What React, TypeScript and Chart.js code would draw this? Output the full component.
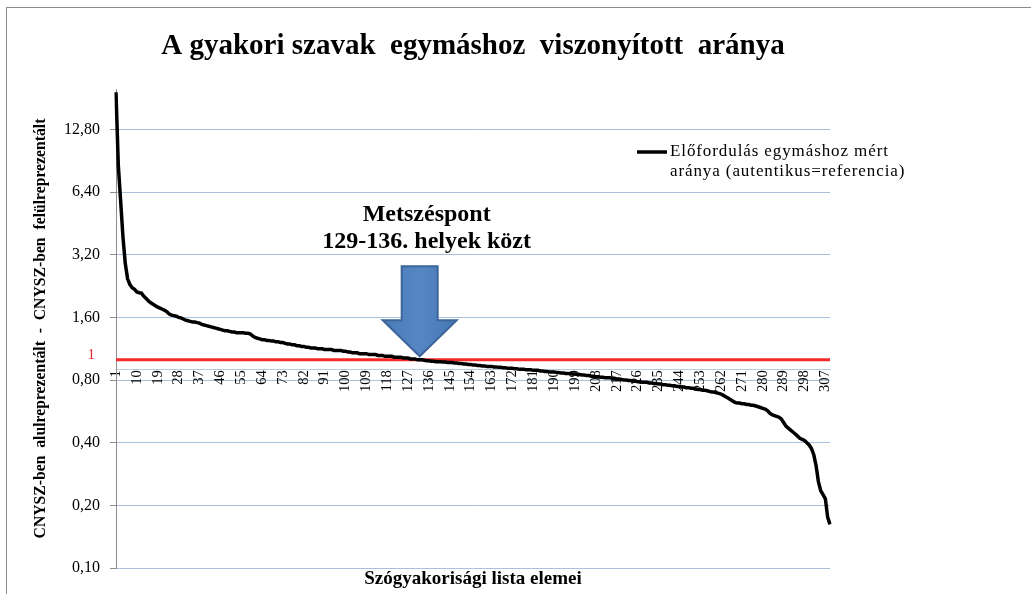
import { useEffect, useRef } from 'react';
import { Chart, registerables } from 'chart.js';

Chart.register(...registerables);

const chartTitle = 'A gyakori szavak  egymáshoz  viszonyított  aránya';
const yAxisTitle = 'CNYSZ-ben  alulreprezentált  -  CNYSZ-ben  felülreprezentált';
const xAxisTitle = 'Szógyakorisági lista elemei';
const seriesNameLines = ['Előfordulás egymáshoz mért', 'aránya (autentikus=referencia)'];
const annotationLines = ['Metszéspont', '129-136. helyek közt'];
const referenceValue = 1;
const referenceLabel = '1';
const arrowCategory = 132;
const arrowTipValue = 1.04;

const yTickValues = [0.1, 0.2, 0.4, 0.8, 1.6, 3.2, 6.4, 12.8];
const yMin = 0.1;
const yMax = 20;
const xAxisCrossValue = 0.9;

const xTickLabels = [
  '1', '10', '19', '28', '37', '46', '55', '64', '73', '82', '91', '100', '109', '118', '127', '136',
  '145', '154', '163', '172', '181', '190', '199', '208', '217', '226', '235', '244', '253', '262',
  '271', '280', '289', '298', '307',
];

const ratio = [
  19.3, 8.6, 5.8, 3.9, 2.9, 2.45, 2.3, 2.22, 2.18, 2.12,
  2.10, 2.09, 2.02, 1.97, 1.92, 1.88, 1.85, 1.82, 1.79, 1.77,
  1.75, 1.73, 1.70, 1.66, 1.64, 1.63, 1.62, 1.60, 1.59, 1.57,
  1.55, 1.54, 1.53, 1.52, 1.52, 1.51, 1.50, 1.48, 1.47, 1.46,
  1.45, 1.44, 1.43, 1.42, 1.41, 1.40, 1.39, 1.38, 1.38, 1.37,
  1.36, 1.36, 1.35, 1.35, 1.35, 1.35, 1.34, 1.34, 1.33, 1.30,
  1.28, 1.27, 1.26, 1.25, 1.25, 1.24, 1.24, 1.23, 1.23, 1.22,
  1.22, 1.21, 1.21, 1.20, 1.19, 1.19, 1.18, 1.18, 1.17, 1.17,
  1.16, 1.16, 1.15, 1.15, 1.14, 1.14, 1.14, 1.13, 1.13, 1.13,
  1.12, 1.12, 1.12, 1.12, 1.11, 1.11, 1.11, 1.11, 1.10, 1.10,
  1.09, 1.09, 1.08, 1.08, 1.08, 1.07, 1.07, 1.07, 1.07, 1.06,
  1.06, 1.06, 1.06, 1.05, 1.05, 1.05, 1.04, 1.04, 1.04, 1.04,
  1.03, 1.03, 1.03, 1.03, 1.02, 1.02, 1.02, 1.01, 1.01, 1.01,
  1.00, 1.00, 1.00, 0.995, 0.99, 0.99, 0.985, 0.985, 0.98, 0.98,
  0.98, 0.975, 0.975, 0.97, 0.97, 0.97, 0.965, 0.965, 0.96, 0.96,
  0.955, 0.955, 0.95, 0.95, 0.945, 0.945, 0.94, 0.94, 0.935, 0.935,
  0.93, 0.93, 0.93, 0.925, 0.925, 0.92, 0.92, 0.915, 0.915, 0.91,
  0.91, 0.91, 0.905, 0.905, 0.90, 0.90, 0.90, 0.895, 0.895, 0.895,
  0.89, 0.89, 0.89, 0.885, 0.885, 0.88, 0.88, 0.875, 0.875, 0.875,
  0.87, 0.87, 0.865, 0.865, 0.86, 0.86, 0.86, 0.855, 0.855, 0.85,
  0.85, 0.845, 0.845, 0.84, 0.84, 0.835, 0.835, 0.83, 0.83, 0.825,
  0.825, 0.82, 0.82, 0.82, 0.815, 0.815, 0.81, 0.81, 0.805, 0.80,
  0.80, 0.795, 0.795, 0.79, 0.79, 0.785, 0.785, 0.78, 0.78, 0.78,
  0.775, 0.775, 0.77, 0.77, 0.765, 0.765, 0.76, 0.76, 0.755, 0.755,
  0.75, 0.75, 0.745, 0.745, 0.74, 0.74, 0.735, 0.735, 0.73, 0.73,
  0.725, 0.72, 0.72, 0.715, 0.715, 0.71, 0.705, 0.70, 0.70, 0.695,
  0.69, 0.685, 0.675, 0.665, 0.655, 0.645, 0.635, 0.625, 0.62, 0.62,
  0.615, 0.615, 0.61, 0.61, 0.605, 0.605, 0.60, 0.595, 0.59, 0.585,
  0.58, 0.57, 0.555, 0.545, 0.54, 0.535, 0.53, 0.52, 0.50, 0.48,
  0.47, 0.46, 0.45, 0.44, 0.43, 0.42, 0.415, 0.41, 0.40, 0.39,
  0.375, 0.35, 0.31, 0.26, 0.235, 0.225, 0.215, 0.175, 0.162,
];

const categories = ratio.map((_, i) => String(i + 1));
const referenceLine = categories.map(() => referenceValue);

const SERIF = "'Liberation Serif', 'Times New Roman', serif";

const overlayPlugin = {
  id: 'overlay',
  afterDatasetsDraw(chart: any) {
    const { ctx, chartArea, scales } = chart;
    const xs = scales.x;
    const ys = scales.y;
    ctx.save();

    // red "1" label for the reference line
    ctx.font = `15px ${SERIF}`;
    ctx.fillStyle = '#e8262a';
    ctx.textAlign = 'right';
    ctx.textBaseline = 'middle';
    ctx.fillText(referenceLabel, chartArea.left - 21, ys.getPixelForValue(referenceValue) - 5);

    // arrow
    const tipX = xs.getPixelForValue(arrowCategory - 1);
    const tipY = ys.getPixelForValue(arrowTipValue);
    const total = 90, headH = 36, headHalf = 37, shaftHalf = 18;
    ctx.beginPath();
    ctx.moveTo(tipX, tipY);
    ctx.lineTo(tipX - headHalf, tipY - headH);
    ctx.lineTo(tipX - shaftHalf, tipY - headH);
    ctx.lineTo(tipX - shaftHalf, tipY - total);
    ctx.lineTo(tipX + shaftHalf, tipY - total);
    ctx.lineTo(tipX + shaftHalf, tipY - headH);
    ctx.lineTo(tipX + headHalf, tipY - headH);
    ctx.closePath();
    const grad = ctx.createLinearGradient(tipX - headHalf, 0, tipX + headHalf, 0);
    grad.addColorStop(0, '#4a7bb8');
    grad.addColorStop(0.5, '#5587c4');
    grad.addColorStop(1, '#4677b4');
    ctx.fillStyle = grad;
    ctx.fill();
    ctx.lineWidth = 2;
    ctx.strokeStyle = '#3d6599';
    ctx.stroke();

    // annotation text
    ctx.font = `bold 24px ${SERIF}`;
    ctx.fillStyle = '#000';
    ctx.textAlign = 'center';
    ctx.fillText(annotationLines[0], tipX + 7, tipY - 141);
    ctx.fillText(annotationLines[1], tipX + 7, tipY - 114);

    // legend
    const lx = chartArea.right - 193;
    const ly = chartArea.top + 63;
    ctx.beginPath();
    ctx.moveTo(lx, ly);
    ctx.lineTo(lx + 30, ly);
    ctx.lineWidth = 3.5;
    ctx.strokeStyle = '#000';
    ctx.stroke();
    ctx.font = `17px ${SERIF}`;
    try { (ctx as any).letterSpacing = '0.9px'; } catch (e) { /* ignore */ }
    ctx.textAlign = 'left';
    ctx.fillStyle = '#000';
    ctx.fillText(seriesNameLines[0], lx + 33, ly);
    ctx.fillText(seriesNameLines[1], lx + 33, ly + 20);

    ctx.restore();
  },
};

export default function App() {
  const canvasRef = useRef<HTMLCanvasElement | null>(null);

  useEffect(() => {
    const canvas = canvasRef.current;
    if (!canvas) return;
    Chart.defaults.font.family = SERIF;
    const chart = new Chart(canvas, {
      type: 'line',
      data: {
        labels: categories,
        datasets: [
          {
            label: seriesNameLines.join(' '),
            data: ratio,
            borderColor: '#000000',
            borderWidth: 3.5,
            pointRadius: 0,
            tension: 0,
            fill: false,
          },
          {
            label: referenceLabel,
            data: referenceLine,
            borderColor: '#f42a2a',
            borderWidth: 3,
            pointRadius: 0,
            tension: 0,
            fill: false,
          },
        ],
      },
      options: {
        responsive: false,
        animation: false,
        events: [],
        layout: { padding: { left: 28, right: 201, top: 0, bottom: 0 } },
        plugins: {
          legend: { display: false },
          tooltip: { enabled: false },
          title: {
            display: true,
            text: chartTitle,
            fullSize: false,
            color: '#000',
            font: { size: 29, weight: 'bold', family: SERIF },
            padding: { top: 29, bottom: 25.2 },
          },
          subtitle: {
            display: true,
            text: xAxisTitle,
            position: 'bottom',
            fullSize: false,
            color: '#000',
            font: { size: 19, weight: 'bold', family: SERIF },
            padding: { top: 0, bottom: 3.2 },
          },
        },
        scales: {
          x: {
            type: 'category',
            position: { y: xAxisCrossValue } as any,
            offset: false,
            grid: { display: false, drawTicks: false },
            border: { display: true, color: '#b9c9e0' },
            ticks: {
              autoSkip: false,
              minRotation: 90,
              maxRotation: 90,
              padding: 1,
              color: '#000',
              font: { size: 14.5, family: SERIF },
              callback: (_v: any, index: number) => {
                const lab = categories[index];
                return xTickLabels.includes(lab) ? lab : '';
              },
            },
          },
          y: {
            type: 'logarithmic',
            position: 'left',
            min: yMin,
            max: yMax,
            bounds: 'data',
            afterBuildTicks: (axis: any) => {
              axis.ticks = yTickValues.map((v) => ({ value: v }));
            },
            afterFit: (axis: any) => {
              axis.width = 88;
            },
            title: {
              display: true,
              text: yAxisTitle,
              color: '#000',
              font: { size: 15.7, weight: 'bold', family: SERIF },
              padding: { top: 4, bottom: 4 },
            },
            grid: { color: '#a9c0df', tickColor: '#8c8c8c', tickLength: 6, lineWidth: 1 },
            border: { display: true, color: '#8c8c8c', width: 1 },
            ticks: {
              padding: 10,
              color: '#000',
              font: { size: 16, family: SERIF },
              callback: (v: any) => Number(v).toFixed(2).replace('.', ','),
            },
          },
        },
      },
      plugins: [overlayPlugin],
    } as any);
    return () => chart.destroy();
  }, []);

  return (
    <div style={{ position: 'fixed', left: 0, top: 0, width: 1031, height: 594, overflow: 'hidden', background: '#fff' }}>
      <div style={{ position: 'absolute', left: 6, top: 7, width: 1060, height: 620, border: '1px solid #8c8c8c' }} />
      <canvas ref={canvasRef} width={1031} height={594} style={{ position: 'absolute', left: 0, top: 0, width: 1031, height: 594 }} />
    </div>
  );
}
